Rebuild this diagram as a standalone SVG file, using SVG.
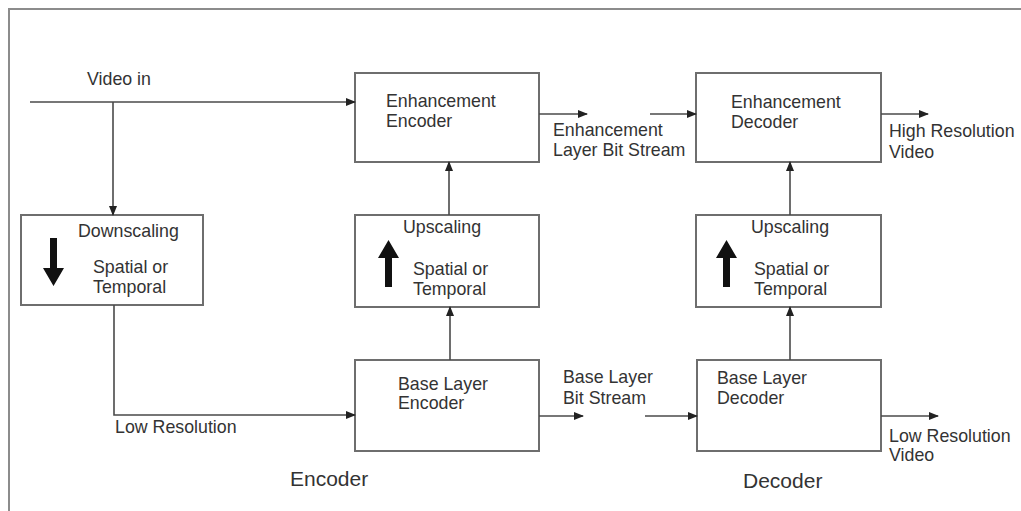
<svg xmlns="http://www.w3.org/2000/svg" width="1021" height="511" viewBox="0 0 1021 511">
  <style>
    .box { fill: #ffffff; stroke: #6e6e6e; stroke-width: 2; }
    .wire { fill: none; stroke: #4a4a4a; stroke-width: 1.6; }
    .frame { fill: none; stroke: #8c8c8c; stroke-width: 2; }
    text { font-family: "Liberation Sans", Arial, sans-serif; font-size: 17.8px; fill: #333333; }
    .section { font-size: 21px; }
    .big { fill: #111111; }
  </style>
  <defs>
    <marker id="head" markerWidth="10" markerHeight="8" refX="9" refY="4" orient="auto" markerUnits="userSpaceOnUse">
      <path d="M0,0 L10,4 L0,8 Z" fill="#222222"/>
    </marker>
  </defs>

  <rect width="1021" height="511" fill="#ffffff"/>
  <!-- outer frame: top and left edges only -->
  <path class="frame" d="M1021,9 H9 V511"/>

  <!-- encoder side -->
  <g id="downscaling">
    <rect class="box" x="21" y="215" width="182" height="90"/>
    <text x="78" y="237">Downscaling</text>
    <path class="big" d="M50,238 H57 V268 H64 L53.5,286 L43,268 H50 Z"/>
    <text x="93" y="273">Spatial or</text>
    <text x="93" y="293">Temporal</text>
  </g>

  <g id="enh-encoder">
    <rect class="box" x="355" y="73" width="184" height="89"/>
    <text x="386" y="107">Enhancement</text>
    <text x="386" y="127">Encoder</text>
  </g>

  <g id="enc-upscaling">
    <rect class="box" x="355" y="215" width="184" height="92"/>
    <text x="403" y="233">Upscaling</text>
    <path class="big" d="M385,287 H392 V258 H399 L388.5,240 L378,258 H385 Z"/>
    <text x="413" y="275">Spatial or</text>
    <text x="413" y="295">Temporal</text>
  </g>

  <g id="base-encoder">
    <rect class="box" x="355" y="360" width="184" height="91"/>
    <text x="398" y="390">Base Layer</text>
    <text x="398" y="409">Encoder</text>
  </g>

  <!-- decoder side -->
  <g id="enh-decoder">
    <rect class="box" x="696" y="73" width="185" height="89"/>
    <text x="731" y="108">Enhancement</text>
    <text x="731" y="128">Decoder</text>
  </g>

  <g id="dec-upscaling">
    <rect class="box" x="696" y="215" width="185" height="92"/>
    <text x="751" y="233">Upscaling</text>
    <path class="big" d="M723,287 H730 V258 H737 L726.5,240 L716,258 H723 Z"/>
    <text x="754" y="275">Spatial or</text>
    <text x="754" y="295">Temporal</text>
  </g>

  <g id="base-decoder">
    <rect class="box" x="697" y="360" width="184" height="91"/>
    <text x="717" y="384">Base Layer</text>
    <text x="717" y="404">Decoder</text>
  </g>

  <g id="connectors">
    <path class="wire" d="M30,102 H355" marker-end="url(#head)"/>
    <path class="wire" d="M113,102 V215" marker-end="url(#head)"/>
    <path class="wire" d="M114,305 V415 H355" marker-end="url(#head)"/>
    <path class="wire" d="M450,360 V307" marker-end="url(#head)"/>
    <path class="wire" d="M449,215 V162" marker-end="url(#head)"/>
    <path class="wire" d="M539,114 H587" marker-end="url(#head)"/>
    <path class="wire" d="M650,114 H696" marker-end="url(#head)"/>
    <path class="wire" d="M881,114 H928" marker-end="url(#head)"/>
    <path class="wire" d="M790,215 V162" marker-end="url(#head)"/>
    <path class="wire" d="M790,360 V307" marker-end="url(#head)"/>
    <path class="wire" d="M539,416 H583" marker-end="url(#head)"/>
    <path class="wire" d="M645,416 H697" marker-end="url(#head)"/>
    <path class="wire" d="M881,416 H938" marker-end="url(#head)"/>
  </g>

  <g id="labels">
    <text x="87" y="85">Video in</text>
    <text x="115" y="433">Low Resolution</text>
    <text x="553" y="136">Enhancement</text>
    <text x="553" y="156">Layer Bit Stream</text>
    <text x="889" y="137">High Resolution</text>
    <text x="889" y="158">Video</text>
    <text x="563" y="383">Base Layer</text>
    <text x="563" y="404">Bit Stream</text>
    <text x="889" y="442">Low Resolution</text>
    <text x="889" y="461">Video</text>
    <text class="section" x="290" y="486">Encoder</text>
    <text class="section" x="743" y="488">Decoder</text>
  </g>
</svg>
